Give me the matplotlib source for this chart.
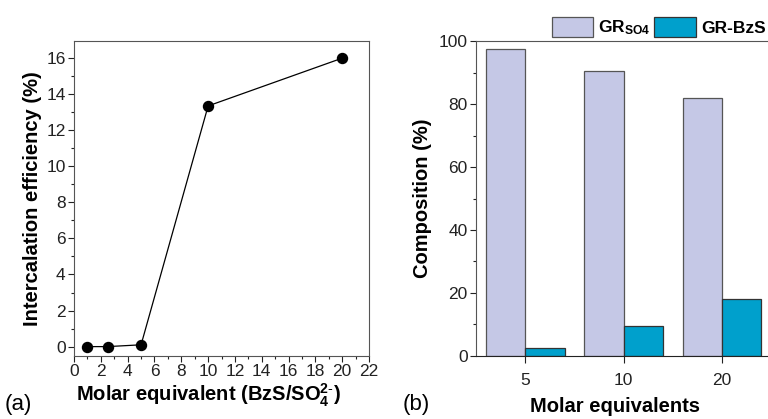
import matplotlib
matplotlib.use("Agg")
import matplotlib.pyplot as plt
import numpy as np
from matplotlib.ticker import MultipleLocator

plt.rcParams['font.family'] = ['Liberation Sans', 'DejaVu Sans']
plt.rcParams['mathtext.fontset'] = 'custom'
plt.rcParams['mathtext.rm'] = 'Liberation Sans'
plt.rcParams['mathtext.bf'] = 'Liberation Sans:bold'
plt.rcParams['mathtext.it'] = 'Liberation Sans:italic'

# Panel (a) data
molar_eq = [1, 2.5, 5, 10, 20]
efficiency = [0.0, 0.0, 0.1, 13.35, 16.0]

# Panel (b) data
categories = ['5', '10', '20']
gr_so4 = [97.4, 90.6, 82.0]
gr_bzs = [2.6, 9.4, 18.0]

fig = plt.figure(figsize=(7.68, 4.19), dpi=100)

tick_fs = 12.5
label_fs = 14.5

# ---- Panel (a)
ax1 = fig.add_axes([0.0964, 0.1504, 0.3841, 0.7517])
ax1.plot(molar_eq, efficiency, color='black', lw=0.9, marker='o', ms=7.2,
         markerfacecolor='black', markeredgecolor='black')
ax1.set_xlim(0, 22)
ax1.set_ylim(-0.52, 16.95)
ax1.xaxis.set_major_locator(MultipleLocator(2))
ax1.xaxis.set_minor_locator(MultipleLocator(1))
ax1.yaxis.set_major_locator(MultipleLocator(2))
ax1.yaxis.set_minor_locator(MultipleLocator(1))
ax1.tick_params(which='both', direction='out', top=False, right=False,
                labelsize=tick_fs, colors='#222222', width=0.8, pad=2)
ax1.tick_params(which='major', length=4)
ax1.tick_params(which='minor', length=2)
for s in ax1.spines.values():
    s.set_color('#555555')
    s.set_linewidth(0.8)
ax1.set_ylabel('Intercalation efficiency (%)', fontsize=label_fs,
               fontweight='bold', labelpad=3)
ax1.set_xlabel(r'Molar equivalent (BzS/SO$\mathbf{_4^{2\text{-}}}$)',
               fontsize=label_fs, fontweight='bold', labelpad=2)
ax1.xaxis.label.set_x(0.455)

# ---- Panel (b)
ax2 = fig.add_axes([0.6198, 0.1504, 0.3842, 0.7517])
x = np.arange(len(categories))
w = 0.4
ax2.bar(x - w / 2, gr_so4, width=w, color='#C5C8E6', edgecolor='#555555',
        linewidth=0.9, label=r'GR$\mathbf{_{SO4}}$')
ax2.bar(x + w / 2, gr_bzs, width=w, color='#00A0CC', edgecolor='#333333',
        linewidth=0.9, label='GR-BzS')
ax2.set_xlim(-0.5, 2.5)
ax2.set_ylim(0, 100)
ax2.set_xticks(x)
ax2.set_xticklabels(categories)
ax2.yaxis.set_major_locator(MultipleLocator(20))
ax2.yaxis.set_minor_locator(MultipleLocator(10))
ax2.tick_params(which='both', direction='out', top=False, right=False,
                labelsize=tick_fs, colors='#222222', width=0.8)
ax2.tick_params(axis='x', which='major', length=5, pad=7)
ax2.tick_params(axis='y', which='major', length=4, pad=2)
ax2.tick_params(which='minor', length=2)
for s in ax2.spines.values():
    s.set_color('#555555')
    s.set_linewidth(0.8)
ax2.spines['bottom'].set_color('#222222')
ax2.set_ylabel('Composition (%)', fontsize=label_fs, fontweight='bold',
               labelpad=5)
ax2.set_xlabel('Molar equivalents', fontsize=label_fs, fontweight='bold',
               labelpad=7)
ax2.xaxis.label.set_x(0.472)

leg = ax2.legend(loc='lower right', bbox_to_anchor=(1.0, 0.995), ncol=2,
                 frameon=False, prop={'weight': 'bold', 'size': 12.5},
                 handlelength=2.4, handleheight=1.35, handletextpad=0.3,
                 columnspacing=0.2, borderaxespad=0.15, borderpad=0.15)

fig.text(0.006, 0.01, '(a)', fontsize=16, ha='left', va='bottom')
fig.text(0.524, 0.01, '(b)', fontsize=16, ha='left', va='bottom')

fig.savefig('out.png', dpi=100)
